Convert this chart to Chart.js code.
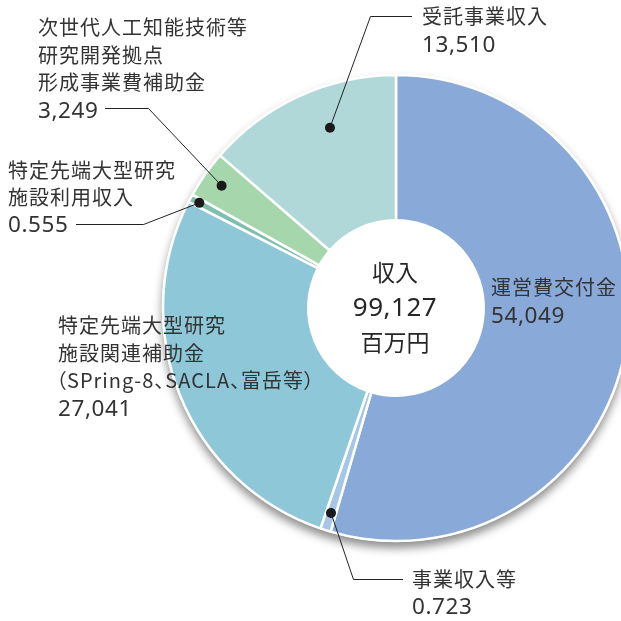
<!DOCTYPE html>
<html lang="ja">
<head>
<meta charset="utf-8">
<script src="https://cdn.jsdelivr.net/npm/chart.js@4"></script>
<style>
    html, body { margin: 0; padding: 0; background: #fff; width: 621px; height: 621px; overflow: hidden; }
    body { position: relative; font-family: "Noto Sans CJK JP", "Noto Sans", sans-serif; color: #333; }
    #wrap { position: absolute; left: 0; top: 0; width: 700px; height: 621px; }
    .lbl { position: absolute; font-size: 20px; letter-spacing: 1px; line-height: 27.5px; white-space: nowrap; }
    .num { font-family: "Noto Sans", sans-serif; font-size: 22.5px; letter-spacing: 0.6px; }
    .center { position: absolute; left: 295px; width: 200px; top: 254px; text-align: center; font-size: 23px; line-height: 35px; color: #262626; }
    .center .num { font-size: 26px; letter-spacing: 0.5px; }
    .palt { font-feature-settings: "palt"; margin-left: -2px; }
</style>
</head>
<body>
<div id="wrap"><canvas id="pie" width="700" height="621"></canvas></div>

<div class="lbl" style="left:38px;top:13px">次世代人工知能技術等<br>研究開発拠点<br>形成事業費補助金<br><span class="num">3,249</span></div>
<div class="lbl" style="left:8px;top:156px;line-height:27px">特定先端大型研究<br>施設利用収入<br><span class="num">0.555</span></div>
<div class="lbl" style="left:58px;top:311px;line-height:27.7px">特定先端大型研究<br>施設関連補助金<br><span class="palt">（SPring-8、SACLA、富岳等）</span><br><span class="num">27,041</span></div>
<div class="lbl" style="left:491px;top:273px;line-height:28px">運営費交付金<br><span class="num">54,049</span></div>
<div class="lbl" style="left:422px;top:2px;line-height:28px">受託事業収入<br><span class="num">13,510</span></div>
<div class="lbl" style="left:412px;top:565px;line-height:27px">事業収入等<br><span class="num">0.723</span></div>
<div class="center">収入<br><span class="num">99,127</span><br>百万円</div>

<script>
/* ── Data (百万円) ── */
const categories = ['運営費交付金', '事業収入等', '特定先端大型研究施設関連補助金', '特定先端大型研究施設利用収入', '次世代人工知能技術等研究開発拠点形成事業費補助金', '受託事業収入'];
const values     = [54049, 723, 27041, 555, 3249, 13510];
const colors     = ['#89a9d8', '#a6c6e8', '#8ec8d8', '#7fbfae', '#a6d6ab', '#b0d8d8'];

/* ── Leader lines: slice index, position in slice, elbow, line end ── */
const leaders = [
    { i: 5, at: 0.59, r: 192, elbow: [370, 16],  end: [412, 16] },
    { i: 4, at: 0.5,  r: 213, elbow: [148, 108], end: [105, 108] },
    { i: 3, at: 0.5,  r: 223, elbow: [143, 224], end: [76, 224] },
    { i: 1, at: 0.5,  r: 215, elbow: [353, 579], end: [403, 579] },
];

const CX = 396, CY = 308, R = 233;

const shadowPlugin = {
    id: 'pieShadow',
    beforeDatasetsDraw(chart) {
        const arc = chart.getDatasetMeta(0).data[0];
        if (!arc) return;
        const ctx = chart.ctx;
        ctx.save();
        ctx.shadowColor = 'rgba(0,0,0,0.45)';
        ctx.shadowBlur = 10;
        ctx.shadowOffsetY = 6;
        ctx.fillStyle = '#fff';
        ctx.beginPath();
        ctx.arc(arc.x, arc.y, arc.outerRadius + 1, 0, Math.PI * 2);
        ctx.fill();
        ctx.restore();
    }
};

const leaderPlugin = {
    id: 'leaders',
    afterDatasetsDraw(chart) {
        const arcs = chart.getDatasetMeta(0).data;
        const ctx = chart.ctx;
        ctx.save();
        leaders.forEach(l => {
            const a = arcs[l.i];
            const ang = a.startAngle + (a.endAngle - a.startAngle) * l.at;
            const px = a.x + Math.cos(ang) * l.r;
            const py = a.y + Math.sin(ang) * l.r;
            ctx.strokeStyle = '#222';
            ctx.lineWidth = 1;
            ctx.beginPath();
            ctx.moveTo(px, py);
            ctx.lineTo(l.elbow[0] + 0.5, l.elbow[1] + 0.5);
            ctx.lineTo(l.end[0], l.end[1] + 0.5);
            ctx.stroke();
            ctx.fillStyle = '#1a1a1a';
            ctx.beginPath();
            ctx.arc(px, py, 5, 0, Math.PI * 2);
            ctx.fill();
        });
        ctx.restore();
    }
};

new Chart(document.getElementById('pie'), {
    type: 'doughnut',
    data: {
        labels: categories,
        datasets: [{
            data: values,
            backgroundColor: colors,
            borderColor: '#fff',
            borderWidth: 2.5,
            radius: R,
            cutout: 88,
        }]
    },
    options: {
        responsive: false,
        animation: false,
        layout: { padding: { left: CX - R - 2, top: CY - R - 2, right: 700 - (CX + R + 2), bottom: 621 - (CY + R + 2) } },
        plugins: { legend: { display: false }, tooltip: { enabled: false } }
    },
    plugins: [shadowPlugin, leaderPlugin]
});
</script>
</body>
</html>
